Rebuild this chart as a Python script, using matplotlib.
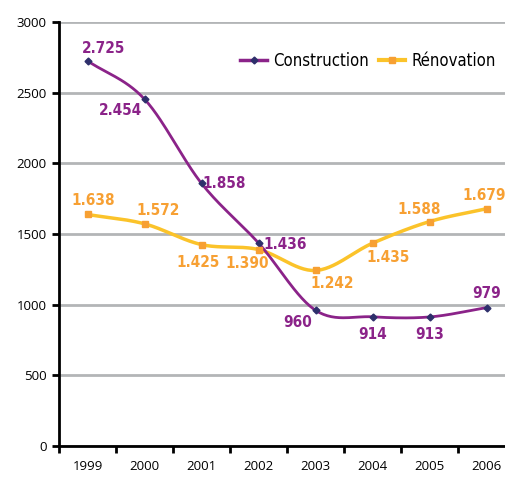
import numpy as np
import matplotlib
matplotlib.use("Agg")
import matplotlib.pyplot as plt

years = ["1999", "2000", "2001", "2002", "2003", "2004", "2005", "2006"]
construction = [2725, 2454, 1858, 1436, 960, 914, 913, 979]
renovation = [1638, 1572, 1425, 1390, 1242, 1435, 1588, 1679]
construction_labels = ["2.725", "2.454", "1.858", "1.436", "960", "914", "913", "979"]
renovation_labels = ["1.638", "1.572", "1.425", "1.390", "1.242", "1.435", "1.588", "1.679"]
yticks = [0, 500, 1000, 1500, 2000, 2500, 3000]

PURPLE = "#8B2389"
YELLOW = "#FBC32A"
ORANGE = "#F7A033"
MARK = "#2E2F6B"


def smooth(xs, ys, n=30):
    xs = np.asarray(xs, float)
    ys = np.asarray(ys, float)
    px = np.concatenate([[2 * xs[0] - xs[1]], xs, [2 * xs[-1] - xs[-2]]])
    py = np.concatenate([[2 * ys[0] - ys[1]], ys, [2 * ys[-1] - ys[-2]]])
    outx, outy = [], []
    t = np.linspace(0, 1, n)
    for i in range(1, len(px) - 2):
        for arr, out in ((px, outx), (py, outy)):
            p0, p1, p2, p3 = arr[i - 1], arr[i], arr[i + 1], arr[i + 2]
            c = 0.5 * ((2 * p1) + (-p0 + p2) * t + (2 * p0 - 5 * p1 + 4 * p2 - p3) * t ** 2
                       + (-p0 + 3 * p1 - 3 * p2 + p3) * t ** 3)
            out.extend(c if i == len(px) - 3 else c[:-1])
    return np.array(outx), np.array(outy)


plt.rcParams['font.family'] = ['Open Sans', 'DejaVu Sans']
fig = plt.figure(figsize=(5.05, 4.82), dpi=100)
ax = fig.add_axes([59 / 505, 36 / 482, 1.0 - 59 / 505 + 0.02, (446 - 22) / 482])

x = np.arange(len(years))
sx, sy = smooth(x, construction)
ax.plot(sx, sy, color=PURPLE, lw=2, zorder=4, solid_capstyle='round')
ax.plot(x, construction, ls='none', marker='D', ms=3.5, color=MARK, zorder=5)
rx, ry = smooth(x, renovation)
ax.plot(rx, ry, color=YELLOW, lw=2.5, zorder=3, solid_capstyle='round')
ax.plot(x, renovation, ls='none', marker='s', ms=5, color=ORANGE, zorder=5)

# legend handles
ax.plot([], [], color=PURPLE, lw=2.5, marker='D', ms=3.5, mfc=MARK, mec=MARK, label="Construction")
ax.plot([], [], color=YELLOW, lw=3, marker='s', ms=5, mfc=ORANGE, mec=ORANGE, label="Rénovation")
handles, labels = ax.get_legend_handles_labels()
leg = ax.legend(handles[-2:], labels[-2:], loc='upper right', bbox_to_anchor=(0.99, 0.965),
                ncol=2, frameon=False, handlelength=1.6, handletextpad=0.35,
                columnspacing=0.6, prop=dict(family=['DejaVu Sans'], stretch='condensed', size=12))

c_off = [(16, 12), (-24, -11), (23, 0), (27, -1), (-18, -12), (0, -18), (0, -18), (0, 14)]
r_off = [(6, 14), (14, 13), (-3, -18), (-11, -14), (17, -13), (16, -14), (-10, 12), (-2, 13)]
lab_font = dict(family=['DejaVu Sans'], fontstretch='condensed', fontweight='bold', fontsize=11)
for i in range(len(years)):
    ax.annotate(construction_labels[i], (x[i], construction[i]), xytext=c_off[i],
                textcoords='offset pixels', ha='center', va='center', color=PURPLE, zorder=6, **lab_font)
    ax.annotate(renovation_labels[i], (x[i], renovation[i]), xytext=r_off[i],
                textcoords='offset pixels', ha='center', va='center', color=ORANGE, zorder=6, **lab_font)

ax.set_ylim(0, 3000)
ax.set_xlim(-0.5, 7.5)
ax.set_yticks(yticks)
ax.set_yticklabels([str(v) for v in yticks], fontsize=9.5)
ax.set_xticks(x)
ax.set_xticklabels(years, fontsize=9.5)
ax.tick_params(axis='x', which='major', length=0, pad=10)
ax.set_xticks(np.arange(-0.5, 8, 1), minor=True)
ax.tick_params(axis='x', which='minor', length=5, width=2, direction='out')
ax.tick_params(axis='y', length=5, width=2, direction='out', pad=4)
ax.grid(axis='y', color='#B3B5B7', lw=2)
ax.set_axisbelow(True)
for s in ['top', 'right']:
    ax.spines[s].set_visible(False)
for s in ['left', 'bottom']:
    ax.spines[s].set_linewidth(2)
    ax.spines[s].set_zorder(7)

fig.savefig("out.png", dpi=100)
